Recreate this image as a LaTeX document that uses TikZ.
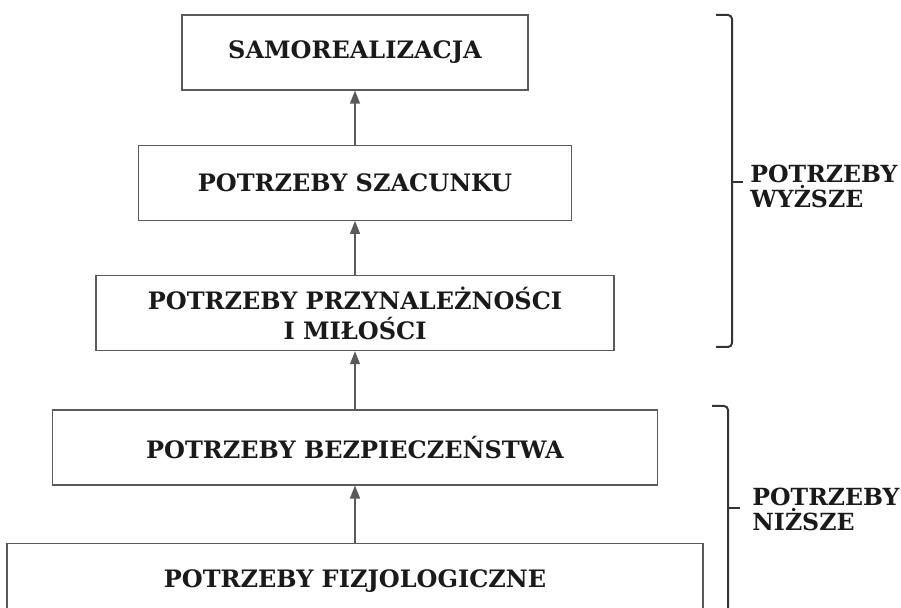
\documentclass[tikz,border=0pt]{standalone}
\usepackage{fontspec}
\setmainfont{DejaVu Serif}
\usepackage{tikz}
\usetikzlibrary{arrows.meta,positioning}
\definecolor{Frame}{HTML}{5A5A5A}
\definecolor{Ink}{HTML}{1A1A1A}
\definecolor{Bracket}{HTML}{333333}
\tikzset{
  level/.style={draw=Frame,fill=white,line width=.65pt,minimum height=37.5pt,align=center,inner sep=0pt,text=Ink,font=\fontsize{12}{15}\selectfont\bfseries},
  side/.style={align=left,inner sep=0pt,text=Ink,font=\fontsize{11.8}{12.5}\selectfont\bfseries},
  rise/.style={-{Triangle[length=6.5pt,width=5pt]},draw=Frame,line width=.65pt},
  bracket/.style={draw=Bracket,line width=1pt,rounded corners=2pt}
}
\begin{document}
\begin{tikzpicture}[x=.5pt,y=-.5pt]
  \useasboundingbox (0,0) rectangle (901,608);
  \node[level,minimum width=173pt] (samo) at (355,52.5) {SAMOREALIZACJA};
  \node[level,minimum width=216.5pt,below=27pt of samo] (szac) {POTRZEBY SZACUNKU};
  \node[level,minimum width=259pt,below=27pt of szac] (milosc) {POTRZEBY PRZYNALEŻNOŚCI\\I MIŁOŚCI};
  \node[level,minimum width=302.5pt,below=29pt of milosc] (bezp) {POTRZEBY BEZPIECZEŃSTWA};
  \node[level,minimum width=348pt,below=28.5pt of bezp] (fizjo) {POTRZEBY FIZJOLOGICZNE};
  \draw[rise] (fizjo) -- (bezp);
  \draw[rise] (bezp) -- (milosc);
  \draw[rise] (milosc) -- (szac);
  \draw[rise] (szac) -- (samo);
  % brackets on the right
  \draw[bracket] (716,15) -- (732,15) -- (732,347) -- (716,347);
  \draw[bracket] (732,182) -- (743,182);
  \draw[bracket] (712,406) -- (728,406) -- (728,640);
  \draw[bracket] (728,508) -- (740,508);
  \node[side,anchor=west] (wyzsze) at (750,186) {POTRZEBY\\WYŻSZE};
  \node[side,anchor=west] (nizsze) at (752,509) {POTRZEBY\\NIŻSZE};
\end{tikzpicture}
\end{document}
